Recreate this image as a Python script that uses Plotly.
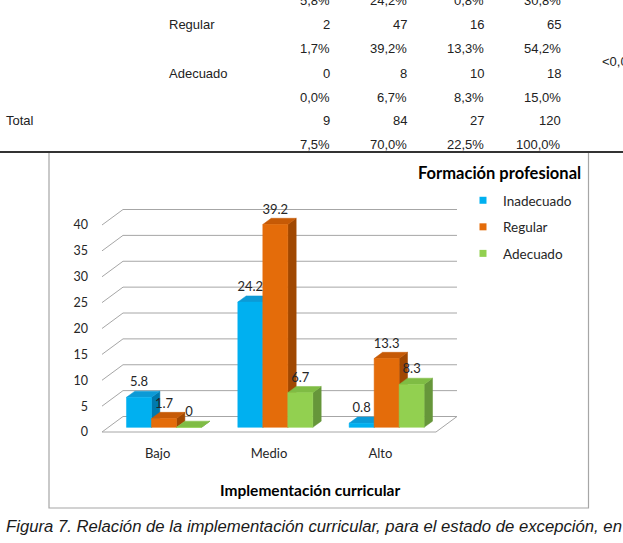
import plotly.graph_objects as go

# ---------------- data ----------------
categories = ["Bajo", "Medio", "Alto"]
series_names = ["Inadecuado", "Regular", "Adecuado"]
inadecuado = [5.8, 24.2, 0.8]
regular = [1.7, 39.2, 13.3]
adecuado = [0, 6.7, 8.3]
y_ticks = [0, 5, 10, 15, 20, 25, 30, 35, 40]

# table fragment above the chart
row_top_pct = ["5,8%", "24,2%", "0,8%", "30,8%"]
regular_n = ["2", "47", "16", "65"]
regular_pct = ["1,7%", "39,2%", "13,3%", "54,2%"]
adecuado_n = ["0", "8", "10", "18"]
adecuado_pct = ["0,0%", "6,7%", "8,3%", "15,0%"]
total_n = ["9", "84", "27", "120"]
total_pct = ["7,5%", "70,0%", "22,5%", "100,0%"]
p_value = "<0,001"
caption = "Figura 7. Relación de la implementación curricular, para el estado de excepción, en"

# ---------------- styling / geometry ----------------
W, H = 623, 543
FRONT_LEFT_PX = 102.0
PX_PER_CAT = 111.33
FRONT_ZERO_PX = 432.0
PX_PER_V = 5.175
DEPTH_DX_PX, DEPTH_DY_PX = 21.0, 15.5
DXU = DEPTH_DX_PX / PX_PER_CAT
DYU = DEPTH_DY_PX / PX_PER_V
F0, F1 = 0.3, 0.7           # bar depth start / end (fraction of floor depth)
BW = 25.0 / PX_PER_CAT      # bar width in category units
LABEL_DY = 8.0 / PX_PER_V

PLOT_L, PLOT_R, PLOT_T, PLOT_B = 102, 470, 150, 440

front_cols = ["#00B0F0", "#E46C0A", "#92D050"]
top_cols = ["#0C9AD6", "#C65A06", "#7FBC44"]
side_cols = ["#0079AE", "#A04802", "#66963A"]
GRID = "#A6A6A6"
FONT = "Lato"
TXT = "#262626"


def px_x(px):
    return px / W


def px_y(py):
    return 1 - py / H


fig = go.Figure()

# ---- gridlines (back wall + left wall edges) and floor ----
gx, gy = [], []
for t in y_ticks:
    gx += [-0.5, -0.5 + DXU, 2.5 + DXU, None]
    gy += [t, t + DYU, t + DYU, None]
gx += [-0.5, 2.5, 2.5 + DXU, None]
gy += [0, 0, DYU, None]
fig.add_trace(go.Scatter(x=gx, y=gy, mode="lines", line=dict(color=GRID, width=1),
                         hoverinfo="skip", showlegend=False))

values = [inadecuado, regular, adecuado]
ddx = (F1 - F0) * DXU
ddy = (F1 - F0) * DYU
base = F0 * DYU

label_x, label_y, label_t = [], [], []
for c in range(len(categories)):
    for s in range(len(series_names)):
        v = values[s][c]
        xl = c - 1.5 * BW + s * BW + F0 * DXU
        xr = xl + BW
        # side face
        fig.add_trace(go.Scatter(
            x=[xr, xr, xr + ddx, xr + ddx, xr], y=[base, base + v, base + v + ddy, base + ddy, base],
            fill="toself", fillcolor=side_cols[s], mode="lines",
            line=dict(color=side_cols[s], width=0.5), hoverinfo="skip", showlegend=False))
        # top face
        fig.add_trace(go.Scatter(
            x=[xl, xr, xr + ddx, xl + ddx, xl], y=[base + v, base + v, base + v + ddy, base + v + ddy, base + v],
            fill="toself", fillcolor=top_cols[s], mode="lines",
            line=dict(color=top_cols[s], width=0.5), hoverinfo="skip", showlegend=False))
        # front face
        fig.add_trace(go.Scatter(
            x=[xl, xr, xr, xl, xl], y=[base, base, base + v, base + v, base],
            fill="toself", fillcolor=front_cols[s], mode="lines",
            line=dict(color=front_cols[s], width=0.5), hoverinfo="skip", showlegend=False))
        label_x.append((xl + xr) / 2)
        label_y.append(v + F1 * DYU + LABEL_DY)
        label_t.append(f"{v:g}")

fig.add_trace(go.Scatter(x=label_x, y=label_y, text=label_t, mode="text",
                         textposition="middle center",
                         textfont=dict(family=FONT, size=13, color=TXT),
                         hoverinfo="skip", showlegend=False))

# legend entries
for s, name in enumerate(series_names):
    fig.add_trace(go.Scatter(x=[None], y=[None], mode="markers", name=name,
                             marker=dict(symbol="square", size=7, color=front_cols[s]),
                             legendgroup=name))

annotations = []


def add_text(text, x, y, xanchor="center", size=13, family="Liberation Sans", color="#222222"):
    annotations.append(dict(text=text, x=px_x(x), y=px_y(y), xref="paper", yref="paper",
                            xanchor=xanchor, yanchor="middle", showarrow=False,
                            font=dict(family=family, size=size, color=color)))


# ---- table fragment ----
col_right = [332, 409, 486, 563]
rows = [(0, row_top_pct), (24, regular_n), (49, regular_pct), (73, adecuado_n),
        (97, adecuado_pct), (121, total_n), (144, total_pct)]
for y, vals in rows:
    for xr_, t in zip(col_right, vals):
        add_text(t, xr_, y, xanchor="right")
add_text("Regular", 167, 24, xanchor="left")
add_text("Adecuado", 167, 73, xanchor="left")
add_text("Total", 4, 121, xanchor="left")
add_text(p_value, 600, 61, xanchor="left")

# ---- chart texts ----
add_text("<b>Formación profesional</b>", 583, 173, xanchor="right", size=16.5, family=FONT, color="#000000")
add_text("<b>Implementación curricular</b>", 310, 490, size=15.5, family=FONT, color="#000000")

# ---- caption ----
add_text("<i>" + caption + "</i>", 4, 526, xanchor="left", size=16.7, color="#1a1a1a")

shapes = [
    dict(type="rect", xref="paper", yref="paper", x0=px_x(49), x1=px_x(588.5), y0=px_y(508), y1=px_y(152),
         line=dict(color="#A6A6A6", width=1.2), fillcolor="rgba(0,0,0,0)", layer="below"),
    dict(type="line", xref="paper", yref="paper", x0=0, x1=1, y0=px_y(152), y1=px_y(152),
         line=dict(color="#333333", width=2)),
]

fig.update_layout(
    width=W, height=H, margin=dict(l=0, r=0, t=0, b=0),
    paper_bgcolor="white", plot_bgcolor="rgba(0,0,0,0)",
    xaxis=dict(domain=[px_x(PLOT_L), px_x(PLOT_R)],
               range=[-0.5, -0.5 + (PLOT_R - FRONT_LEFT_PX) / PX_PER_CAT],
               tickvals=[0, 1, 2], ticktext=categories, showgrid=False, zeroline=False,
               showline=False, ticks="", ticklabelstandoff=4,
               tickfont=dict(family=FONT, size=13, color=TXT), fixedrange=True),
    yaxis=dict(domain=[px_y(PLOT_B), px_y(PLOT_T)],
               range=[(FRONT_ZERO_PX - PLOT_B) / PX_PER_V, (FRONT_ZERO_PX - PLOT_T) / PX_PER_V],
               tickvals=y_ticks, showgrid=False, zeroline=False, showline=False, ticks="",
               ticklabelstandoff=13, tickfont=dict(family=FONT, size=12.5, color=TXT), fixedrange=True),
    legend=dict(x=px_x(463), y=px_y(185), xanchor="left", yanchor="top",
                font=dict(family=FONT, size=13.5, color=TXT), bgcolor="rgba(0,0,0,0)",
                traceorder="grouped", tracegroupgap=6, itemsizing="trace"),
    annotations=annotations,
    shapes=shapes,
    showlegend=True,
)

fig.write_html("out.html")
